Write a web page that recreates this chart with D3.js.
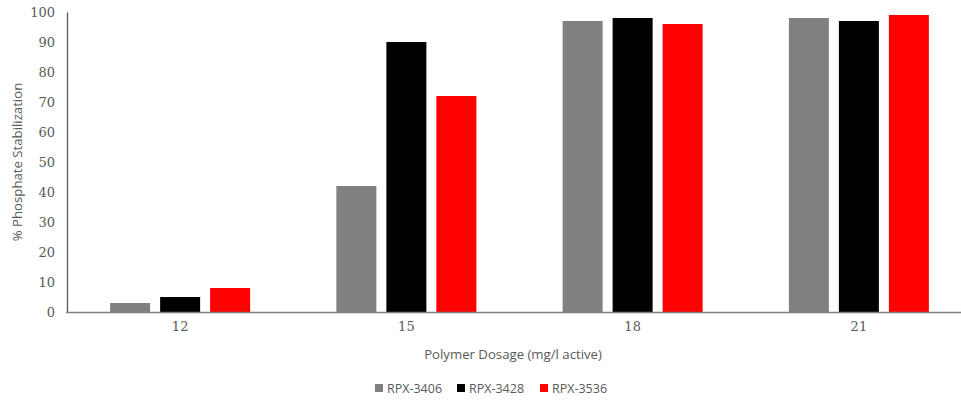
<!DOCTYPE html>
<html><head><meta charset="utf-8">
<script src="https://cdn.jsdelivr.net/npm/d3@7"></script>
<style>body{margin:0;background:#fff}svg{display:block}</style>
</head><body><svg id="c" width="961" height="400"></svg>
<script>
const categories = ["12","15","18","21"];
const seriesNames = ["RPX-3406","RPX-3428","RPX-3536"];
const colors = ["#808080","#000000","#ff0000"];
const rpx3406 = [3,42,97,98];
const rpx3428 = [5,90,98,97];
const rpx3536 = [8,72,96,99];
const yTicks = [0,10,20,30,40,50,60,70,80,90,100];
const seriesValues = [rpx3406, rpx3428, rpx3536];

const svg = d3.select("#c");
const x = d3.scaleBand().domain(categories).range([67, 972]);
const xi = d3.scaleBand().domain(seriesNames).range([-75, 75]).paddingInner(0.2).paddingOuter(0.1);
const y = d3.scaleLinear().domain([0,100]).range([312, 12]);

// bars
seriesNames.forEach((s, si) => {
  svg.append("g").selectAll("rect").data(categories).join("rect")
    .attr("x", d => x(d) + x.bandwidth()/2 + xi(s))
    .attr("width", xi.bandwidth())
    .attr("y", (d,i) => y(seriesValues[si][i]))
    .attr("height", (d,i) => y(0) - y(seriesValues[si][i]))
    .attr("fill", colors[si]);
});

// y axis
const ya = svg.append("g").attr("transform","translate(67,0)")
  .call(d3.axisLeft(y).tickValues(yTicks).tickSize(0).tickPadding(12));
ya.select(".domain").attr("stroke","#595959").attr("stroke-width",1.3);
ya.selectAll("text").attr("font-family","'DejaVu Serif', serif").attr("font-size","13px").attr("fill","#595959");

// x axis
const xa = svg.append("g").attr("transform","translate(0,312)")
  .call(d3.axisBottom(x).tickSize(0).tickPadding(10));
xa.select(".domain").remove();
svg.append("line").attr("x1",66).attr("x2",961).attr("y1",312.5).attr("y2",312.5).attr("stroke","#808080").attr("stroke-width",1.5);
xa.selectAll("text").attr("font-family","'DejaVu Serif', serif").attr("font-size","13px").attr("fill","#595959");

// axis titles
svg.append("text").attr("x",513).attr("y",359).attr("text-anchor","middle")
  .attr("font-family","'Open Sans', sans-serif").attr("font-size","13.2px").attr("fill","#595959")
  .text("Polymer Dosage (mg/l active)");
svg.append("text").attr("transform","translate(22,162) rotate(-90)").attr("text-anchor","middle")
  .attr("font-family","'Open Sans', sans-serif").attr("font-size","13.2px").attr("fill","#595959")
  .text("% Phosphate Stabilization");

// legend
const legX = [375, 457, 540];
const lg = svg.append("g").selectAll("g").data(seriesNames).join("g")
  .attr("transform",(d,i)=>`translate(${legX[i]},383)`);
lg.append("rect").attr("width",8).attr("height",8).attr("y",1).attr("fill",(d,i)=>colors[i]);
lg.append("text").attr("x",12).attr("y",10).attr("font-family","'Open Sans', sans-serif")
  .attr("font-size","12.5px").attr("fill","#595959").text(d=>d);
</script></body></html>
